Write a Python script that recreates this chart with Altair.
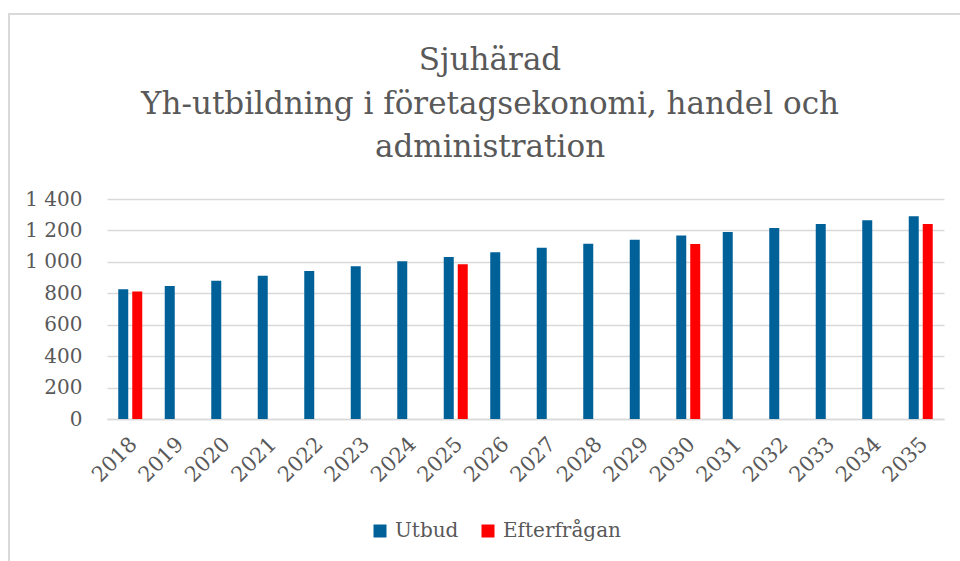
import altair as alt
import pandas as pd

# Yearly supply (Utbud) and demand (Efterfrågan) for the programme in Sjuhärad
years = [str(y) for y in range(2018, 2036)]
utbud = [826, 847, 879, 911, 942, 972, 1004, 1031, 1061, 1089,
         1116, 1141, 1167, 1190, 1216, 1241, 1264, 1290]
eft_years = ["2018", "2025", "2030", "2035"]
efterfragan = [811, 985, 1114, 1241]

series = ["Utbud", "Efterfrågan"]
colors = ["#006199", "#ff0000"]
y_ticks = [0, 200, 400, 600, 800, 1000, 1200, 1400]
title_lines = ["Sjuhärad", "Yh-utbildning i företagsekonomi, handel och", "administration"]

rows = [{"År": y, "Serie": "Utbud", "Antal": v} for y, v in zip(years, utbud)]
rows += [{"År": y, "Serie": "Efterfrågan", "Antal": v} for y, v in zip(eft_years, efterfragan)]
df = pd.DataFrame(rows)

FONT = "DejaVu Serif"
GREY = "#595959"
LIGHT = "#d9d9d9"

one = pd.DataFrame({"k": [0]})

# light frame around the whole chart
frame = alt.Chart(one).mark_rect(
    fillOpacity=0, stroke=LIGHT, strokeWidth=2
).encode(
    x=alt.value(-98), x2=alt.value(880),
    y=alt.value(-185), y2=alt.value(400),
)

# three-line chart heading
heading = alt.Chart(one).mark_text(
    text=title_lines, font=FONT, fontSize=31, color=GREY,
    lineHeight=43.5, align="center", baseline="alphabetic",
).encode(x=alt.value(383), y=alt.value(-129))

bars = alt.Chart(df).mark_bar().encode(
    x=alt.X(
        "År:N",
        sort=years,
        scale=alt.Scale(domain=years, paddingInner=0.484, paddingOuter=0.242),
        axis=alt.Axis(
            title=None, labelAngle=-45, labelFont=FONT, labelFontSize=21,
            labelColor=GREY, labelPadding=14, labelOffset=-4, ticks=False,
            domain=True, domainColor=LIGHT, domainWidth=1.5, grid=False,
        ),
    ),
    xOffset=alt.XOffset(
        "Serie:N",
        scale=alt.Scale(domain=series, paddingInner=0.286, paddingOuter=0),
    ),
    y=alt.Y(
        "Antal:Q",
        scale=alt.Scale(domain=[0, 1400], nice=False),
        axis=alt.Axis(
            title=None, values=y_ticks,
            labelExpr="replace(format(datum.value, ','), ',', ' ')",
            labelFont=FONT, labelFontSize=20, labelColor=GREY,
            labelPadding=25, ticks=False, domain=False,
            grid=True, gridColor=LIGHT, gridWidth=1.5,
        ),
    ),
    color=alt.Color(
        "Serie:N",
        scale=alt.Scale(domain=series, range=colors),
        legend=alt.Legend(
            title=None, orient="none", direction="horizontal",
            legendX=263, legendY=322, padding=0,
            symbolType="square", symbolSize=169, symbolStrokeWidth=0,
            labelFont=FONT, labelFontSize=20, labelColor=GREY,
            labelOffset=5, columnPadding=19,
        ),
    ),
)

chart = alt.layer(frame, heading, bars).properties(
    width=837,
    height=220,
    autosize=alt.AutoSizeParams(type="none"),
    padding={"left": 107, "top": 199, "right": 16, "bottom": 142},
).configure_view(stroke=None)

chart.save("out.html", embed_options={"renderer": "svg", "actions": False})
